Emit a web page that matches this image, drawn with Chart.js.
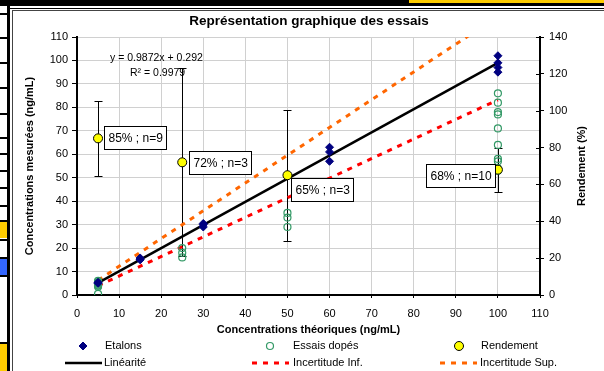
<!DOCTYPE html>
<html lang="fr">
<head>
<meta charset="utf-8" />
<title>Représentation graphique des essais</title>
<script src="https://cdn.jsdelivr.net/npm/chart.js"></script>
<style>
    body { margin: 0; background: #fff; }
    #wrap { position: relative; width: 604px; height: 371px; overflow: hidden; }
    .d { position: absolute; }
    #chart { position: absolute; left: 0; top: 0; }
</style>
</head>
<body>
<div id="wrap">
    <!-- spreadsheet frame around the chart -->
    <div class="d" style="left:0;top:0;width:604px;height:6px;background:#000"></div>
    <div class="d" style="left:409px;top:0;width:195px;height:3px;background:#ffcc00"></div>
    <div class="d" style="left:10px;top:8px;width:594px;height:1px;background:#000"></div>
    <div class="d" style="left:7px;top:0;width:3px;height:371px;background:#000"></div>
    <div class="d" style="left:12px;top:10px;width:600px;height:370px;border:1px solid #444"></div>
    <div id="cells"></div>
    <canvas id="chart" width="604" height="371"></canvas>
</div>
<script>
// ---- data ----
const etalonX = [5, 5, 15, 15, 15, 30, 30, 30, 60, 60, 60, 100, 100, 100, 100];
const etalonY = [5.0, 5.4, 15, 15.8, 15.3, 29, 30, 30.5, 57, 61, 63, 95, 97, 99, 102];

const essaiX = [5, 5, 5, 5, 5, 5, 5, 5, 5, 25, 25, 25, 50, 50, 50,
                100, 100, 100, 100, 100, 100, 100, 100, 100, 100];
const essaiY = [6, 5.5, 5, 5, 4.5, 4, 4, 3.5, 0.5, 20, 18, 16, 35, 33, 29,
                86, 82, 78, 77, 71, 64, 58, 57, 54, 53];

const rendX = [5, 25, 50, 100];
const rendY = [85, 72, 65, 68];
const rendErr = [20.4, 51, 35.5, 12];
const rendLabels = ['85% ; n=9', '72% ; n=3', '65% ; n=3', '68% ; n=10'];

const linX = [5, 100];
const linY = [5.2, 99.0];
const infX = [5, 100];
const infY = [3.9, 83.2];
const supX = [5, 100];
const supY = [6.3, 118.8];

const equation = ['y = 0.9872x + 0.292', 'R² = 0.9979'];

// ---- page decorations (left cells) ----
const cells = document.getElementById('cells');
[13, 37, 62, 87, 113, 137, 153, 170, 187, 205, 220, 239, 257, 275, 342].forEach(function (y) {
    const d = document.createElement('div');
    d.className = 'd';
    d.style.cssText = 'left:0;top:' + y + 'px;width:7px;height:2px;background:#000';
    cells.appendChild(d);
});
[[222, 16, '#ffcc00'], [259, 16, '#3366ff'], [344, 27, '#ffcc00']].forEach(function (c) {
    const d = document.createElement('div');
    d.className = 'd';
    d.style.cssText = 'left:0;top:' + c[0] + 'px;width:7px;height:' + c[1] + 'px;background:' + c[2];
    cells.appendChild(d);
});

function pts(xs, ys) {
    return xs.map(function (x, i) { return { x: x, y: ys[i] }; });
}

const FONT = 'Arial, "Liberation Sans", sans-serif';

const extras = {
    id: 'extras',
    beforeDatasetsDraw: function (chart) {
        const ctx = chart.ctx, x = chart.scales.x, y2 = chart.scales.y2;
        ctx.save();
        ctx.strokeStyle = '#000';
        ctx.lineWidth = 1;
        rendX.forEach(function (v, i) {
            const px = Math.round(x.getPixelForValue(v)) + 0.5;
            const top = Math.round(y2.getPixelForValue(rendY[i] + rendErr[i])) + 0.5;
            const bot = Math.round(y2.getPixelForValue(rendY[i] - rendErr[i])) + 0.5;
            ctx.beginPath();
            ctx.moveTo(px, top); ctx.lineTo(px, bot);
            ctx.moveTo(px - 4, top); ctx.lineTo(px + 4, top);
            ctx.moveTo(px - 4, bot); ctx.lineTo(px + 4, bot);
            ctx.stroke();
        });
        ctx.restore();
    },
    afterDatasetsDraw: function (chart) {
        // label boxes next to the Rendement points
        const ctx = chart.ctx, x = chart.scales.x, y2 = chart.scales.y2;
        const place = [[6, -12, 'r'], [7, -11, 'r'], [4, 3, 'r'], [-3, -6, 'l']];
        ctx.save();
        ctx.font = '12px ' + FONT;
        ctx.textBaseline = 'middle';
        rendX.forEach(function (v, i) {
            const px = x.getPixelForValue(v), py = y2.getPixelForValue(rendY[i]);
            const w = Math.round(ctx.measureText(rendLabels[i]).width + 8), h = 23;
            const p = place[i];
            const left = Math.round(p[2] === 'r' ? px + p[0] : px + p[0] - w);
            const top = Math.round(py + p[1]);
            ctx.fillStyle = '#fff';
            ctx.fillRect(left, top, w, h);
            ctx.strokeStyle = '#000';
            ctx.lineWidth = 1;
            ctx.strokeRect(left + 0.5, top + 0.5, w, h);
            ctx.fillStyle = '#000';
            ctx.fillText(rendLabels[i], left + 4.5, top + h / 2 + 1);
        });
        ctx.restore();
    },
    afterDraw: function (chart) {
        const ctx = chart.ctx, y2 = chart.scales.y2, area = chart.chartArea;
        ctx.save();
        ctx.fillStyle = '#000';
        // title
        ctx.font = 'bold 13.5px ' + FONT;
        ctx.textAlign = 'center';
        ctx.textBaseline = 'middle';
        ctx.fillText('Représentation graphique des essais', 309, 21);
        // right axis title, reading upwards
        ctx.save();
        ctx.translate(582, (area.top + area.bottom) / 2);
        ctx.rotate(-Math.PI / 2);
        ctx.font = 'bold 11px ' + FONT;
        ctx.fillText('Rendement (%)', 0, 0);
        ctx.restore();
        // inner tick marks of right axis
        ctx.strokeStyle = '#000';
        ctx.lineWidth = 1;
        y2.ticks.forEach(function (t) {
            const py = Math.round(y2.getPixelForValue(t.value)) + 0.5;
            ctx.beginPath();
            ctx.moveTo(area.right - 4, py);
            ctx.lineTo(area.right, py);
            ctx.stroke();
        });
        // trend equation
        ctx.textAlign = 'left';
        ctx.font = '10.5px ' + FONT;
        ctx.fillText(equation[0], 110, 58);
        ctx.fillText(equation[1], 130, 73);
        // legend
        const ds = chart.data.datasets;
        const items = [
            [1, 83, 346, 105], [2, 270, 346, 293], [0, 459, 346, 481],
            [3, 65, 363, 104], [4, 252, 363, 293], [5, 440, 363, 480]
        ];
        ctx.font = '11px ' + FONT;
        items.forEach(function (it) {
            const d = ds[it[0]];
            if (d.showLine) {
                ctx.save();
                ctx.strokeStyle = d.borderColor;
                ctx.lineWidth = d.borderWidth;
                ctx.setLineDash(d.borderDash || []);
                ctx.beginPath();
                ctx.moveTo(it[1], it[2]);
                ctx.lineTo(it[1] + 37, it[2]);
                ctx.stroke();
                ctx.restore();
            } else {
                ctx.fillStyle = d.backgroundColor;
                ctx.strokeStyle = d.borderColor;
                ctx.lineWidth = d.borderWidth;
                ctx.beginPath();
                if (d.pointStyle === 'rectRot') {
                    const r = d.pointRadius;
                    ctx.moveTo(it[1], it[2] - r); ctx.lineTo(it[1] + r, it[2]);
                    ctx.lineTo(it[1], it[2] + r); ctx.lineTo(it[1] - r, it[2]);
                    ctx.closePath();
                } else {
                    ctx.arc(it[1], it[2], d.pointRadius, 0, Math.PI * 2);
                }
                ctx.fill();
                ctx.stroke();
            }
            ctx.fillStyle = '#000';
            ctx.textBaseline = 'middle';
            ctx.fillText(d.label, it[3], it[2]);
        });
        ctx.restore();
    }
};

new Chart(document.getElementById('chart'), {
    type: 'scatter',
    data: {
        datasets: [
            {
                label: 'Rendement', data: pts(rendX, rendY), yAxisID: 'y2',
                pointStyle: 'circle', pointRadius: 4.5, pointHoverRadius: 4.5,
                backgroundColor: '#ffff00', borderColor: '#000', borderWidth: 1
            },
            {
                label: 'Etalons', data: pts(etalonX, etalonY),
                pointStyle: 'rectRot', pointRadius: 4, pointHoverRadius: 4,
                backgroundColor: '#000080', borderColor: '#000080', borderWidth: 1
            },
            {
                label: 'Essais dopés', data: pts(essaiX, essaiY),
                pointStyle: 'circle', pointRadius: 3.5, pointHoverRadius: 3.5,
                backgroundColor: 'rgba(0,0,0,0)', borderColor: '#339966', borderWidth: 1.2
            },
            {
                label: 'Linéarité', data: pts(linX, linY), showLine: true,
                borderColor: '#000', borderWidth: 2.5, pointRadius: 0
            },
            {
                label: 'Incertitude Inf.', data: pts(infX, infY), showLine: true,
                borderColor: '#ff0000', borderWidth: 3, borderDash: [5, 6], pointRadius: 0
            },
            {
                label: 'Incertitude Sup.', data: pts(supX, supY), showLine: true,
                borderColor: '#ff6600', borderWidth: 3, borderDash: [5, 6], pointRadius: 0
            }
        ]
    },
    options: {
        responsive: false,
        animation: false,
        devicePixelRatio: 1,
        layout: { padding: { top: 37, left: 0, right: 0, bottom: 0 } },
        plugins: { legend: { display: false }, tooltip: { enabled: false } },
        scales: {
            x: {
                type: 'linear', min: 0, max: 110,
                ticks: { stepSize: 10, color: '#000', font: { size: 11, family: FONT }, padding: 9 },
                grid: { color: '#d0d0d0', tickColor: '#000', tickLength: 3 },
                border: { color: '#000', width: 2 },
                title: {
                    display: true, text: 'Concentrations théoriques (ng/mL)', color: '#000',
                    font: { size: 11, weight: 'bold', family: FONT }, padding: { top: 0, bottom: 34 }
                },
                afterFit: function (s) { s.height = 76; }
            },
            y: {
                position: 'left', min: 0, max: 110,
                ticks: { stepSize: 10, color: '#000', font: { size: 11, family: FONT }, padding: 4 },
                grid: { color: '#d0d0d0', tickColor: '#000', tickLength: 5 },
                border: { color: '#000', width: 2 },
                title: {
                    display: true, text: 'Concentrations mesurées (ng/mL)', color: '#000',
                    font: { size: 11, weight: 'bold', family: FONT }, padding: { top: 23, bottom: 0 }
                },
                afterFit: function (s) { s.width = 77; }
            },
            y2: {
                position: 'right', min: 0, max: 140,
                ticks: { stepSize: 20, color: '#000', font: { size: 11, family: FONT }, padding: 5 },
                grid: { drawOnChartArea: false, tickColor: '#000', tickLength: 4 },
                border: { color: '#000', width: 2 },
                afterFit: function (s) { s.width = 64; }
            }
        }
    },
    plugins: [extras]
});
</script>
</body>
</html>
